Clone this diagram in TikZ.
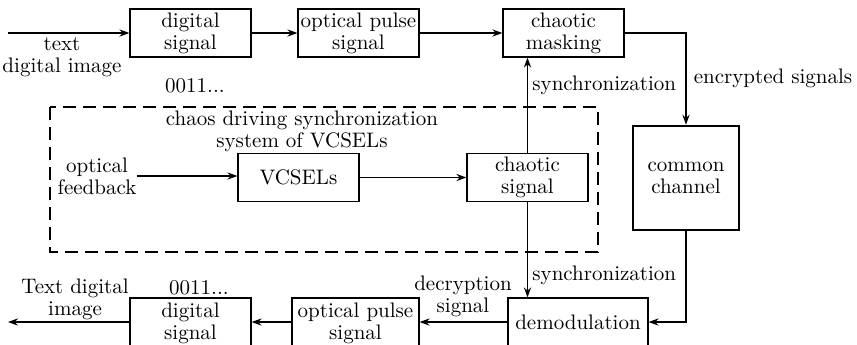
\documentclass[tikz,border=0pt]{standalone}
\usepackage{tikz}
\usetikzlibrary{arrows.meta,positioning}

\begin{document}
\begin{tikzpicture}[x=0.5pt,y=-0.5pt,
  box/.style={draw,line width=0.6pt,minimum width=60.5pt,minimum height=24pt,
              inner sep=1pt,align=center,font=\fontsize{10.5}{11}\selectfont},
  lbl/.style={align=center,inner sep=0pt,font=\fontsize{10.5}{11}\selectfont},
  arr/.style={-{Stealth[length=5pt,width=3.6pt]},line width=0.6pt},
  dashbox/.style={draw,line width=1.4pt,dash pattern=on 6.5pt off 3.5pt}]
  \useasboundingbox (0,0) rectangle (857,344);
  % top row
  \node[box] (dig1) at (190.5,33)  {digital\\signal};
  \node[box] (opt1) at (358.5,33)  {optical pulse\\signal};
  \node[box] (mask) at (563.5,33)  {chaotic\\masking};
  \node[box,line width=1.3pt,minimum width=53pt,minimum height=52pt]
    (chan) at (686,178) {common\\channel};
  \coordinate (in) at (8,33);
  \node[lbl] (txt1) at (62,57)   {text\\digital image};
  \node[lbl] (bit1) at (195,86)  {0011...};
  \draw[arr] (in) -- (dig1);
  \draw[arr] (dig1) -- (opt1);
  \draw[arr] (opt1) -- (mask);
  \draw[arr] (mask.east) -| (chan.north);
  \node[lbl] (enc) at (773,78) {encrypted signals};
  % chaos driving system
  \draw[dashbox] (50,107) rectangle (598,252);
  \node[lbl] (title) at (302,131) {chaos driving synchronization\\system of VCSELs};
  \node[lbl] (fb) at (97,176) {optical\\feedback};
  \node[box] (vcsel) at (298.5,177.5) {VCSELs};
  \node[box] (csig)  at (527.5,177.5) {chaotic\\signal};
  \draw[arr] (fb.east) -- (vcsel.west |- fb.east);
  \draw[arr] (vcsel) -- (csig);
  \draw[arr] (csig.north) -- (csig.north |- mask.south);
  \node[lbl,anchor=west] (sync1) at (532,85) {synchronization};
  % bottom row
  \node[box,minimum width=70pt] (demod) at (578,322) {demodulation};
  \node[box,minimum width=63.5pt,minimum height=25pt] (opt2) at (355.5,323) {optical pulse\\signal};
  \node[box,minimum height=25pt] (dig2) at (190.5,323) {digital\\signal};
  \coordinate (out) at (8,322);
  \draw[arr] (csig.south) -- (csig.south |- demod.north);
  \node[lbl,anchor=west] (sync2) at (532,275) {synchronization};
  \draw[arr] (chan.south) |- (demod.east);
  \draw[arr] (demod.west) -- (opt2.east |- demod.west);
  \node[lbl] (dec) at (463,296) {decryption\\signal};
  \draw[arr] (opt2.west |- demod.west) -- (dig2.east |- demod.west);
  \draw[arr] (dig2.west |- out) -- (out);
  \node[lbl] (txt2) at (75,299) {Text digital\\image};
  \node[lbl] (bit2) at (199,288) {0011...};
\end{tikzpicture}
\end{document}
